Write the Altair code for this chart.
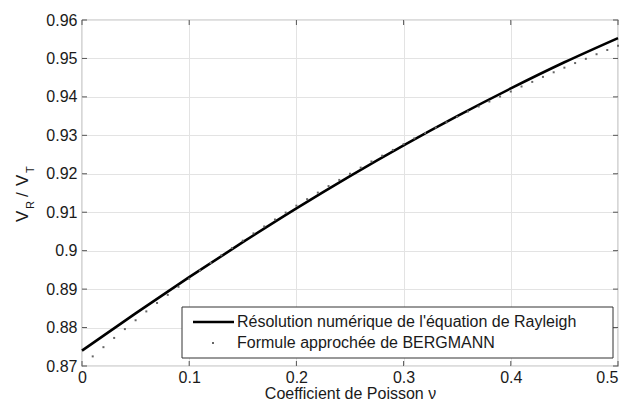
import altair as alt
import pandas as pd

# Exact Rayleigh solution
nu_exact = [0.00, 0.05, 0.10, 0.15, 0.20, 0.25, 0.30, 0.35, 0.40, 0.45, 0.50]
vr_exact = [0.8740, 0.8837, 0.8931, 0.9022, 0.9110, 0.9194, 0.9274, 0.9350, 0.9422, 0.9490, 0.9553]

# Bergmann approximation (dotted curve, one dot every 0.01)
nu_berg = [0.01, 0.02, 0.03, 0.04, 0.05, 0.06, 0.07, 0.08, 0.09, 0.10,
           0.11, 0.12, 0.13, 0.14, 0.15, 0.16, 0.17, 0.18, 0.19, 0.20,
           0.21, 0.22, 0.23, 0.24, 0.25, 0.26, 0.27, 0.28, 0.29, 0.30,
           0.31, 0.32, 0.33, 0.34, 0.35, 0.36, 0.37, 0.38, 0.39, 0.40,
           0.41, 0.42, 0.43, 0.44, 0.45, 0.46, 0.47, 0.48, 0.49, 0.50]
vr_berg = [0.8725, 0.8749, 0.8773, 0.8796, 0.8819, 0.8842, 0.8864, 0.8885, 0.8906, 0.8927,
           0.8948, 0.8968, 0.8988, 0.9007, 0.9026, 0.9045, 0.9063, 0.9081, 0.9099, 0.9117,
           0.9134, 0.9151, 0.9168, 0.9184, 0.9200, 0.9216, 0.9232, 0.9247, 0.9262, 0.9277,
           0.9292, 0.9306, 0.9320, 0.9334, 0.9348, 0.9362, 0.9375, 0.9388, 0.9401, 0.9414,
           0.9427, 0.9439, 0.9452, 0.9464, 0.9476, 0.9488, 0.9499, 0.9511, 0.9522, 0.9533]

x_ticks = [0.0, 0.1, 0.2, 0.3, 0.4, 0.5]
y_ticks = [0.87, 0.88, 0.89, 0.90, 0.91, 0.92, 0.93, 0.94, 0.95, 0.96]

legend_labels = ["Résolution numérique de l'équation de Rayleigh",
                 "Formule approchée de BERGMANN"]

FONT = "Liberation Sans"
W, H = 536, 346

df_exact = pd.DataFrame({"nu": nu_exact, "vr": vr_exact})
df_berg = pd.DataFrame({"nu": nu_berg, "vr": vr_berg})
df_xt = pd.DataFrame({"t": x_ticks})
df_yt = pd.DataFrame({"t": y_ticks})
one = pd.DataFrame({"a": [0]})

xs = alt.Scale(domain=[0, 0.5], nice=False, zero=False)
ys = alt.Scale(domain=[0.87, 0.96], nice=False, zero=False)

y_label_expr = "format(datum.value, '.2f') == '0.90' ? '0.9' : format(datum.value, '.2f')"
x_label_expr = "datum.value == 0 ? '0' : format(datum.value, '.1f')"

x_axis = alt.Axis(values=x_ticks, grid=True, gridColor="#e3e3e3",
                  tickSize=0, domain=False, labelFont=FONT, labelFontSize=16,
                  labelColor="#1a1a1a", labelPadding=3, labelExpr=x_label_expr,
                  labelAlign={"condition": {"test": "datum.value >= 0.5", "value": "right"},
                              "value": "center"},
                  labelFlush=False, labelOverlap=False, labelBound=False,
                  title="Coefficient de Poisson ν", titleFont=FONT, titleFontSize=16,
                  titleFontWeight="normal", titleColor="#1a1a1a",
                  titleY=32, titleBaseline="alphabetic")
y_axis = alt.Axis(values=y_ticks, grid=True, gridColor="#e3e3e3",
                  tickSize=0, domain=False, labelFont=FONT, labelFontSize=16,
                  labelColor="#1a1a1a", labelPadding=5, labelExpr=y_label_expr,
                  labelFlush=False, labelOverlap=False, labelBound=False, title=None)

line = alt.Chart(df_exact).mark_line(color="black", strokeWidth=2.6, interpolate="monotone").encode(
    x=alt.X("nu:Q", scale=xs, axis=x_axis),
    y=alt.Y("vr:Q", scale=ys, axis=y_axis),
)

dots = alt.Chart(df_berg).mark_square(color="#666666", size=4, opacity=1).encode(
    x=alt.X("nu:Q", scale=xs, axis=x_axis),
    y=alt.Y("vr:Q", scale=ys, axis=y_axis),
)

tick_color = "#555555"
xt_bot = alt.Chart(df_xt).mark_rule(color=tick_color, strokeWidth=1).encode(
    x=alt.X("t:Q", scale=xs, axis=x_axis), y=alt.value(H), y2=alt.value(H - 5))
xt_top = alt.Chart(df_xt).mark_rule(color=tick_color, strokeWidth=1).encode(
    x=alt.X("t:Q", scale=xs, axis=x_axis), y=alt.value(0), y2=alt.value(5))
yt_left = alt.Chart(df_yt).mark_rule(color=tick_color, strokeWidth=1).encode(
    y=alt.Y("t:Q", scale=ys, axis=y_axis), x=alt.value(0), x2=alt.value(5))
yt_right = alt.Chart(df_yt).mark_rule(color=tick_color, strokeWidth=1).encode(
    y=alt.Y("t:Q", scale=ys, axis=y_axis), x=alt.value(W), x2=alt.value(W - 5))

# Legend box (inside the plot, bottom right)
leg_box = alt.Chart(one).mark_rect(fill="white", stroke="#333333", strokeWidth=1).encode(
    x=alt.value(100), x2=alt.value(531), y=alt.value(287), y2=alt.value(338))
leg_line = alt.Chart(one).mark_rule(color="black", strokeWidth=2.6).encode(
    x=alt.value(111), x2=alt.value(152), y=alt.value(302))
leg_dot = alt.Chart(one).mark_square(color="#666666", size=4, opacity=1).encode(
    x=alt.value(131), y=alt.value(323))
leg_t1 = alt.Chart(one).mark_text(align="left", baseline="middle", font=FONT, fontSize=16,
                                  color="#1a1a1a").encode(
    x=alt.value(155), y=alt.value(302), text=alt.value(legend_labels[0]))
leg_t2 = alt.Chart(one).mark_text(align="left", baseline="middle", font=FONT, fontSize=16,
                                  color="#1a1a1a").encode(
    x=alt.value(155), y=alt.value(323), text=alt.value(legend_labels[1]))

# Y-axis title V_R / V_T, composed of rotated pieces
def ytext(txt, x, y, size):
    return alt.Chart(one).mark_text(align="left", baseline="alphabetic", angle=270,
                                    font=FONT, fontSize=size, color="#1a1a1a").encode(
        x=alt.value(x), y=alt.value(y), text=alt.value(txt))

ytitle = [
    ytext("V", -54, 202, 17),
    ytext("R", -48, 189, 11),
    ytext("/", -54, 177, 17),
    ytext("V", -54, 166, 17),
    ytext("T", -48, 153, 11),
]

chart = alt.layer(line, dots, xt_bot, xt_top, yt_left, yt_right,
                  leg_box, leg_line, leg_dot, leg_t1, leg_t2, *ytitle).properties(
    width=W, height=H,
    autosize=alt.AutoSizeParams(type="none"),
    padding={"left": 74, "top": 12, "right": 4, "bottom": 34},
    background="white",
).configure_view(stroke="#7a7a7a", strokeWidth=1.2)

chart.save("out.html", embed_options={"renderer": "svg", "actions": False})
